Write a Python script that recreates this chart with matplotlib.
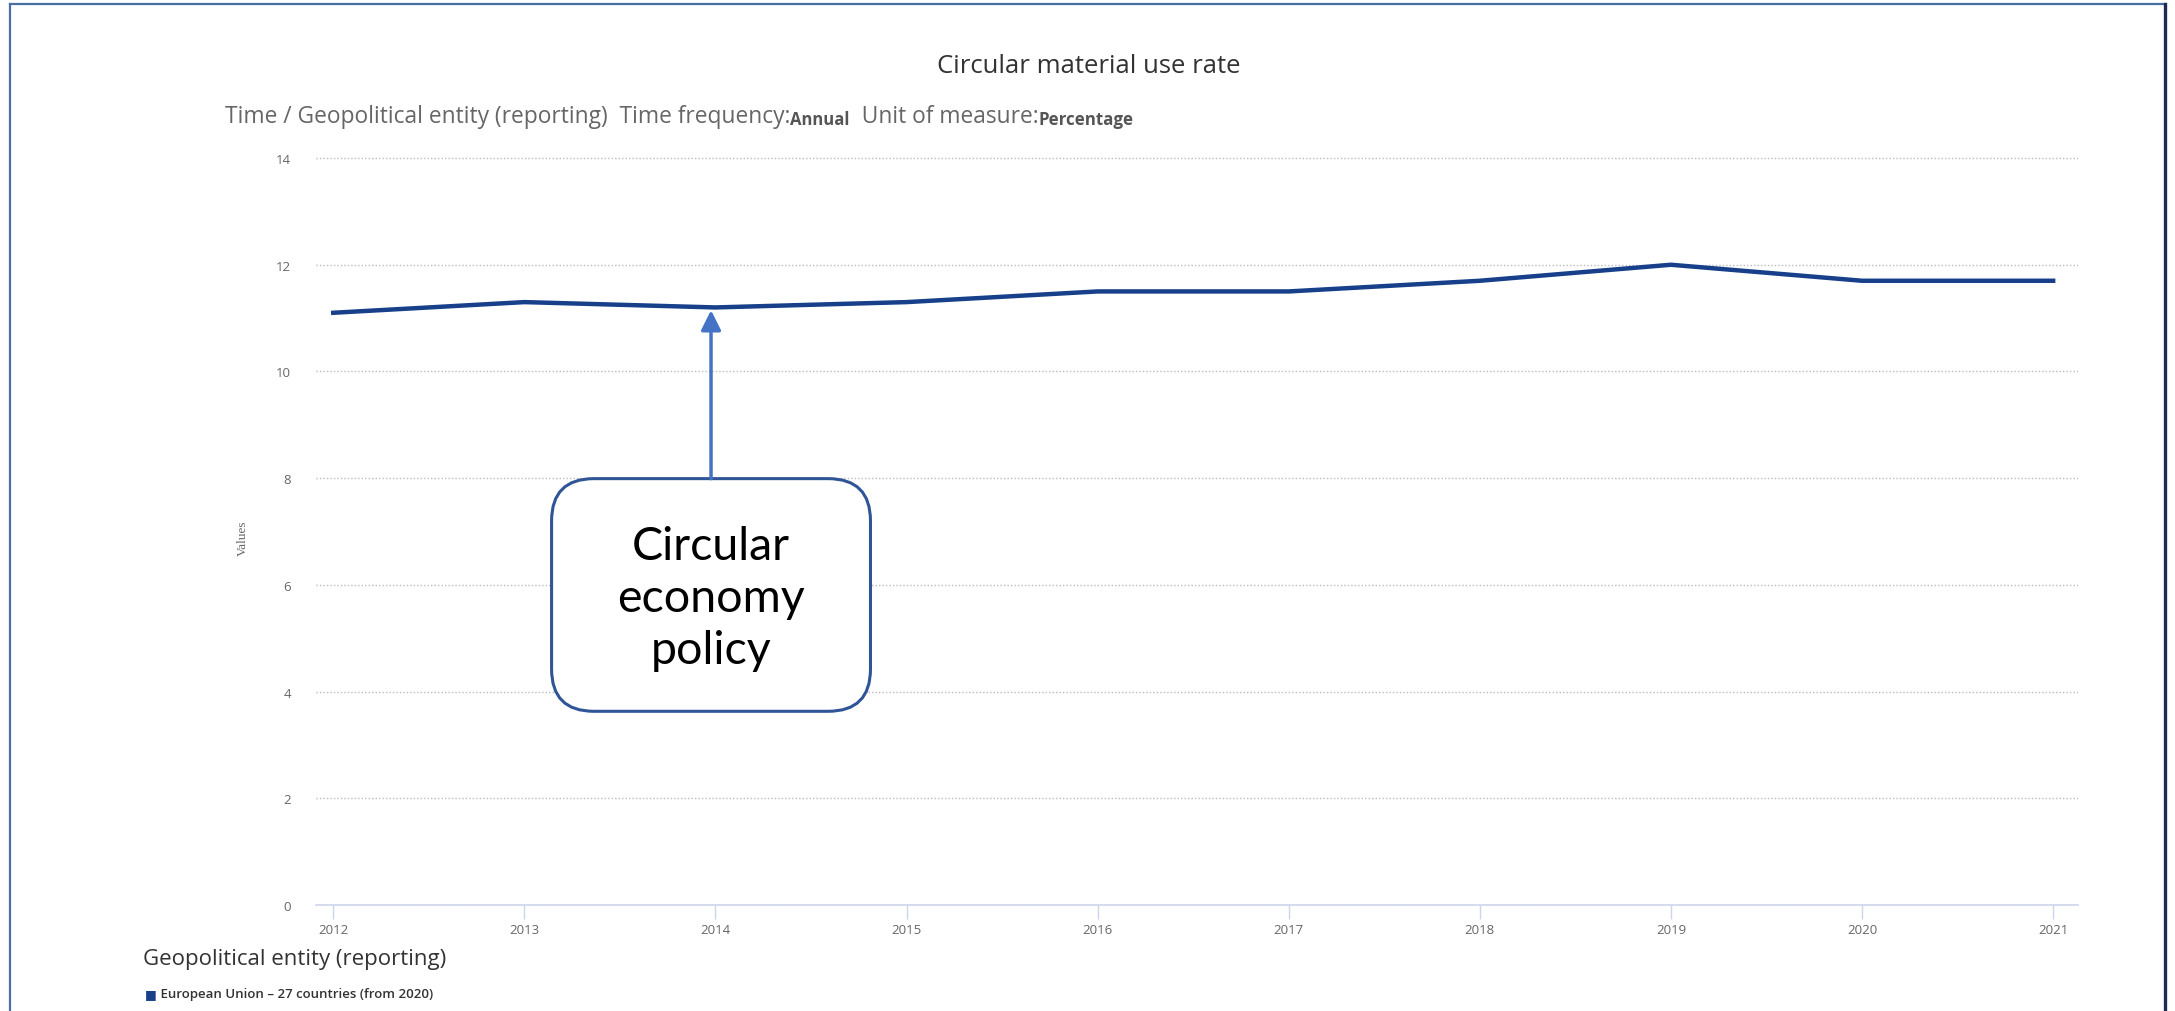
import matplotlib
matplotlib.use("Agg")
from matplotlib import pyplot as plt
from matplotlib.patches import FancyBboxPatch
from matplotlib.lines import Line2D

# data
years = [2012, 2013, 2014, 2015, 2016, 2017, 2018, 2019, 2020, 2021]
year_labels = ["2012", "2013", "2014", "2015", "2016", "2017", "2018", "2019", "2020", "2021"]
rate = [11.1, 11.3, 11.2, 11.3, 11.5, 11.5, 11.7, 12.0, 11.7, 11.7]
y_ticks = [0, 2, 4, 6, 8, 10, 12, 14]
policy_year = 2014
policy_value = 11.2

plt.rcParams['font.family'] = ['Open Sans', 'DejaVu Sans']

fig = plt.figure(figsize=(21.75, 10.12), dpi=100)
ax = fig.add_axes([0.1453, 0.1047, 0.8101, 0.7392])

ax.plot(years, rate, color='#173f8a', lw=3.2, solid_joinstyle='round', zorder=3)

x0, x1 = 2011.91, 2021.13
ax.set_xlim(x0, x1)
ax.set_ylim(0, 14.02)
ax.set_xticks(years)
ax.set_xticklabels(year_labels)
ax.set_yticks(y_ticks)
ax.grid(axis='y', color='#bbbbbb', linestyle=(0, (1, 1.5)), lw=1.0)
for s in ['top', 'right', 'left']:
    ax.spines[s].set_visible(False)
ax.spines['bottom'].set_color('#ccd6eb')
ax.spines['bottom'].set_linewidth(1.2)
ax.tick_params(axis='x', length=10, color='#ccd6eb', width=1, labelsize=9.5,
               labelcolor='#666666', pad=3)
ax.tick_params(axis='y', length=0, labelsize=9.5, labelcolor='#666666', pad=18)

# annotation box + arrow, centred under the policy year (nudged a hair left like the original)
bw, bh = 0.181, 0.311
cx = (policy_year - x0) / (x1 - x0) - 0.0025
bx, by = cx - bw / 2, 0.259
box = FancyBboxPatch((bx, by), bw, bh, transform=ax.transAxes,
                     boxstyle='round,pad=0,rounding_size=0.024',
                     mutation_aspect=1762 / 748, fc='white', ec='#2f5597',
                     lw=2.2, zorder=4)
ax.add_patch(box)
ax.text(cx, by + bh / 2 - 0.004, "Circular\neconomy\npolicy", transform=ax.transAxes,
        ha='center', va='center', multialignment='center', fontsize=33.5,
        color='black', linespacing=1.3, zorder=5, family=['Lato', 'DejaVu Sans'])
ax.annotate('', xy=(cx, policy_value), xycoords=ax.get_yaxis_transform(),
            xytext=(cx, by + bh), textcoords='axes fraction',
            arrowprops=dict(arrowstyle='-|>', color='#4472c4', lw=2.5,
                            mutation_scale=30, shrinkA=0, shrinkB=2), zorder=4)

# titles
fig.text(0.5007, 0.934, "Circular material use rate", ha='center', va='center',
         fontsize=18.5, color='#333333')
t = fig.text(0.1034, 0.8844, "Time / Geopolitical entity (reporting)  Time frequency:",
             ha='left', va='center', fontsize=16.4, color='#666666')
t = ax.annotate("Annual", xy=(1, 0), xycoords=t, va='bottom', fontsize=12,
                fontweight='bold', color='#555555', annotation_clip=False)
t = ax.annotate("  Unit of measure:", xy=(1, 0), xycoords=t, va='bottom',
                fontsize=16.4, color='#666666', annotation_clip=False)
ax.annotate("Percentage", xy=(1, 0), xycoords=t, va='bottom', fontsize=12.2,
            fontweight='bold', color='#555555', annotation_clip=False)

fig.text(0.1117, 0.4684, "Values", rotation=90, ha='center', va='center',
         fontsize=9.5, color='#666666', family=['Liberation Serif', 'DejaVu Serif'])

# legend
fig.text(0.0657, 0.0514, "Geopolitical entity (reporting)", ha='left', va='center',
         fontsize=16, color='#333333')
sq = fig.text(0.0666, 0.0168, "■", ha='left', va='center', fontsize=9, color='#173f8a')
ax.annotate(" European Union – 27 countries (from 2020)", xy=(1, 0.5), xycoords=sq,
            va='center', fontsize=9.5, fontweight='semibold', color='#333333',
            annotation_clip=False)

# outer frame (screenshot border)
fig.add_artist(Line2D([10 / 2175, 10 / 2175], [0, 1 - 5 / 1012],
                      transform=fig.transFigure, color='#4a6fa5', lw=1.6))
fig.add_artist(Line2D([10 / 2175, 2165 / 2175], [1 - 5 / 1012, 1 - 5 / 1012],
                      transform=fig.transFigure, color='#4a6fa5', lw=1.6))
fig.add_artist(Line2D([2165 / 2175, 2165 / 2175], [0, 1 - 5 / 1012],
                      transform=fig.transFigure, color='#1b2a4e', lw=2.4))

fig.savefig("out.png", dpi=100)
